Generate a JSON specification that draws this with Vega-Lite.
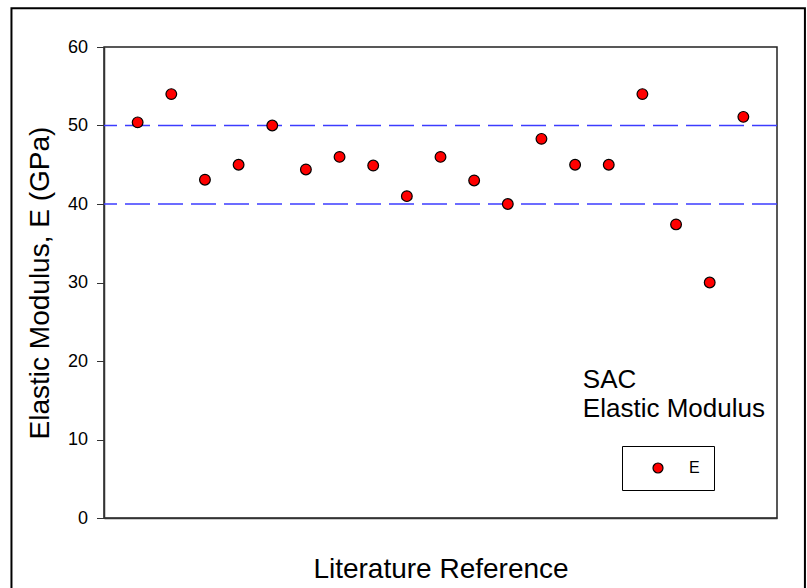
{
  "$schema": "https://vega.github.io/schema/vega-lite/v6.json",
  "autosize": {"type": "none"},
  "padding": {"left": 104, "top": 47, "right": 30, "bottom": 70},
  "width": 673,
  "height": 471,
  "background": "white",
  "config": {
    "font": "Liberation Sans",
    "view": {"stroke": "#222222", "strokeWidth": 1.5},
    "axis": {"grid": false, "domainColor": "#333333", "tickColor": "#333333", "labelColor": "black", "titleColor": "black", "titleFontWeight": "normal", "domainWidth": 1.5}
  },
  "data": {
    "values": [
      {"ref": 1, "E": 50.4, "series": "E"},
      {"ref": 2, "E": 54.0, "series": "E"},
      {"ref": 3, "E": 43.1, "series": "E"},
      {"ref": 4, "E": 45.0, "series": "E"},
      {"ref": 5, "E": 50.0, "series": "E"},
      {"ref": 6, "E": 44.4, "series": "E"},
      {"ref": 7, "E": 46.0, "series": "E"},
      {"ref": 8, "E": 44.9, "series": "E"},
      {"ref": 9, "E": 41.0, "series": "E"},
      {"ref": 10, "E": 46.0, "series": "E"},
      {"ref": 11, "E": 43.0, "series": "E"},
      {"ref": 12, "E": 40.0, "series": "E"},
      {"ref": 13, "E": 48.3, "series": "E"},
      {"ref": 14, "E": 45.0, "series": "E"},
      {"ref": 15, "E": 45.0, "series": "E"},
      {"ref": 16, "E": 54.0, "series": "E"},
      {"ref": 17, "E": 37.4, "series": "E"},
      {"ref": 18, "E": 30.0, "series": "E"},
      {"ref": 19, "E": 51.1, "series": "E"}
    ]
  },
  "layer": [
    {
      "data": {"values": [{}]},
      "mark": {"type": "rect", "fill": null, "fillOpacity": 0, "stroke": "black", "strokeWidth": 2, "clip": false},
      "encoding": {
        "x": {"datum": -2.75, "type": "quantitative", "scale": {"domain": [0, 20], "nice": false, "zero": false}},
        "x2": {"datum": 20.83},
        "y": {"datum": 64.93, "type": "quantitative", "scale": {"domain": [0, 60], "nice": false}},
        "y2": {"datum": -10}
      }
    },
    {
      "data": {"values": [{"line": 40}, {"line": 50}]},
      "mark": {"type": "rule", "color": "#3c3cff", "strokeWidth": 1.4, "strokeDash": [25, 8]},
      "encoding": {
        "y": {"field": "line", "type": "quantitative"}
      }
    },
    {
      "mark": {"type": "point", "shape": "circle", "filled": true, "size": 115, "stroke": "black", "strokeWidth": 1.2, "opacity": 1},
      "encoding": {
        "x": {
          "field": "ref", "type": "quantitative",
          "scale": {"domain": [0, 20], "nice": false, "zero": false},
          "axis": {"labels": false, "ticks": false, "title": "Literature Reference", "titleFontSize": 28, "titleBaseline": "alphabetic", "titlePadding": 59}
        },
        "y": {
          "field": "E", "type": "quantitative",
          "scale": {"domain": [0, 60], "nice": false},
          "axis": {"values": [0, 10, 20, 30, 40, 50, 60], "tickSize": 7.5, "labelPadding": 9, "labelFontSize": 18, "title": "Elastic Modulus, E (GPa)", "titleFontSize": 28, "titlePadding": 13}
        },
        "fill": {
          "field": "series", "type": "nominal",
          "scale": {"domain": ["E"], "range": ["#ff0000"]},
          "legend": {
            "title": null, "orient": "none", "legendX": 518, "legendY": 399,
            "strokeColor": "black", "padding": 14, "symbolType": "circle", "symbolSize": 100,
            "symbolStrokeColor": "black", "symbolStrokeWidth": 1.2, "symbolOffset": 14,
            "labelFontSize": 16, "labelOffset": 23, "labelColor": "black"
          }
        }
      }
    },
    {
      "data": {"values": [{}]},
      "mark": {"type": "text", "text": ["SAC", "Elastic Modulus"], "align": "left", "baseline": "alphabetic", "fontSize": 26, "lineHeight": 29, "color": "black"},
      "encoding": {
        "x": {"datum": 14.23, "type": "quantitative"},
        "y": {"datum": 16.52, "type": "quantitative"}
      }
    }
  ]
}
